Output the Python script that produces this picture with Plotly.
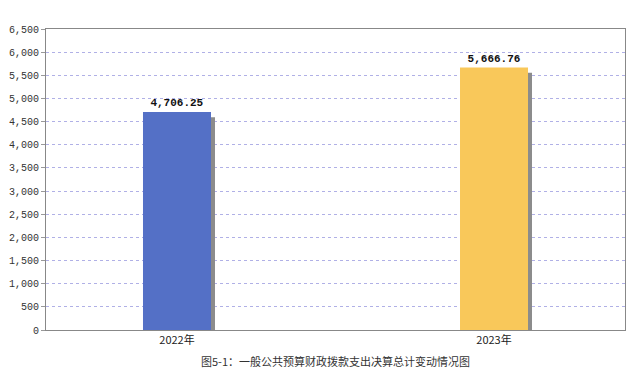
import plotly.graph_objects as go

categories = ["2022年", "2023年"]
values = [4706.25, 5666.76]
bar_colors = ["#5470c6", "#f9c85a"]
y_ticks = [0, 500, 1000, 1500, 2000, 2500, 3000, 3500, 4000, 4500, 5000, 5500, 6000, 6500]
caption = "图5-1：一般公共预算财政拨款支出决算总计变动情况图"

x_pos = list(range(len(categories)))
bar_w = 0.2145
shadow_dx = 0.0126
shadow_drop = 110

fig = go.Figure()
fig.add_trace(go.Bar(
    x=x_pos, y=[v - shadow_drop for v in values],
    width=bar_w, offset=-bar_w / 2 + shadow_dx,
    marker=dict(color="#8c8c8c", line=dict(width=0)),
    hoverinfo="skip", showlegend=False,
))
fig.add_trace(go.Bar(
    x=x_pos, y=values,
    width=bar_w, offset=-bar_w / 2,
    marker=dict(color=bar_colors, line=dict(width=0)),
    text=[f"{v:,.2f}" for v in values],
    textposition="outside",
    textfont=dict(family="Liberation Mono", size=11, color="#111111", weight="bold"),
    cliponaxis=False, showlegend=False,
))

fig.update_layout(
    width=636, height=375,
    margin=dict(l=46, r=11, t=29, b=45),
    paper_bgcolor="white", plot_bgcolor="white",
    barmode="overlay",
    font=dict(family="Liberation Mono", size=11, color="#333333"),
    xaxis=dict(
        range=[-0.4132, 1.4132],
        tickmode="array", tickvals=x_pos, ticktext=categories,
        tickfont=dict(family="Noto Sans CJK SC", size=11, color="#222222"),
        showgrid=False, showline=True, linecolor="#888888", linewidth=1,
        mirror=True, ticks="", zeroline=False, automargin=False,
    ),
    yaxis=dict(
        range=[0, 6500],
        tickmode="array", tickvals=y_ticks,
        ticktext=[f"{t:,}" for t in y_ticks],
        tickfont=dict(family="Liberation Mono", size=10, color="#333333"),
        showgrid=True, gridcolor="#b0b0e6", griddash="dot", gridwidth=1,
        showline=True, linecolor="#888888", linewidth=1, mirror=True,
        ticks="outside", ticklen=4, tickcolor="#999999",
        zeroline=False, automargin=False,
    ),
    annotations=[dict(
        text=caption, x=0.5, xref="paper", y=-0.103, yref="paper",
        xanchor="center", yanchor="middle", showarrow=False,
        font=dict(family="Noto Sans CJK SC", size=11, color="#333333"),
    )],
)

fig.write_html("out.html", config={"displayModeBar": False},
               post_script="document.body.style.margin='0px';")
